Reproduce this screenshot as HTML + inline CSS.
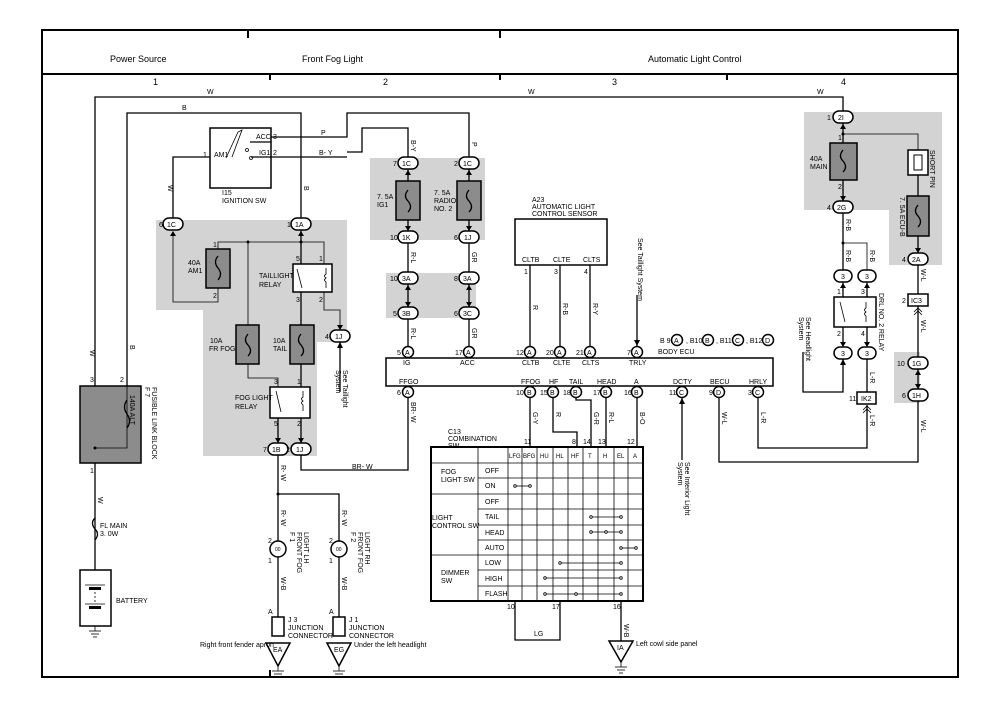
<!DOCTYPE html>
<html><head><meta charset="utf-8"><style>
html,body{margin:0;padding:0;background:#fff}
svg{display:block}
text{font-family:"Liberation Sans",Arial,sans-serif;font-size:7px;fill:#000}
.h{font-size:9px}
.w{fill:none;stroke:#000;stroke-width:1.3}
.t{fill:none;stroke:#000;stroke-width:0.8}
.g{fill:#d3d3d3;stroke:none}
.f{fill:#8c8c8c;stroke:#000;stroke-width:1.5}
.c{fill:#fff;stroke:#000;stroke-width:1.5}
.b{fill:#fff;stroke:#000;stroke-width:1.5}
</style></head><body>
<svg width="1000" height="706" viewBox="0 0 1000 706" xmlns="http://www.w3.org/2000/svg">
<!-- frame -->
<rect x="42" y="30" width="916" height="647" fill="none" stroke="#000" stroke-width="2"/>
<line x1="42" y1="74" x2="958" y2="74" stroke="#000" stroke-width="2"/>
<line x1="248" y1="30" x2="248" y2="38" stroke="#000" stroke-width="2"/>
<line x1="500" y1="30" x2="500" y2="38" stroke="#000" stroke-width="2"/>
<line x1="270" y1="74" x2="270" y2="80" stroke="#000" stroke-width="2"/>
<line x1="500" y1="74" x2="500" y2="80" stroke="#000" stroke-width="2"/>
<line x1="727" y1="74" x2="727" y2="80" stroke="#000" stroke-width="2"/>
<line x1="270" y1="670" x2="270" y2="677" stroke="#000" stroke-width="2"/>
<text x="110" y="62" class="h">Power Source</text>
<text x="302" y="62" class="h">Front Fog Light</text>
<text x="648" y="62" class="h">Automatic Light Control</text>
<text x="153" y="85" class="h">1</text><text x="383" y="85" class="h">2</text>
<text x="612" y="85" class="h">3</text><text x="841" y="85" class="h">4</text>

<!-- gray regions -->
<polygon class="g" points="156,220 347,220 347,342 317,342 317,456 203,456 203,310 156,310"/>
<rect class="g" x="370" y="158" width="115" height="82"/>
<rect class="g" x="386" y="273" width="90" height="45"/>
<polygon class="g" points="804,112 942,112 942,265 889,265 889,210 804,210"/>
<rect class="g" x="894" y="352" width="26" height="51"/>

<!-- main wires -->
<polyline class="w" points="95,386 95,97 843,97 843,111"/>
<polyline class="w" points="127,386 127,113 301,113 301,218"/>
<text x="207" y="94">W</text><text x="528" y="94">W</text><text x="817" y="94">W</text>
<text x="182" y="110">B</text>
<text x="90" y="350" transform="rotate(90 90 350)">W</text>
<text x="130" y="345" transform="rotate(90 130 345)">B</text>
<text x="304" y="186" transform="rotate(90 304 186)">B</text>
<text x="168" y="185" transform="rotate(90 168 185)">W</text>

<!-- ignition sw -->
<rect x="210" y="128" width="61" height="60" fill="#fff" stroke="#000" stroke-width="1.5"/>
<polyline class="w" points="210,157 173,157 173,218"/>
<polyline class="w" points="250,142 271,142" />
<polyline class="w" points="251,157 347,157"/>
<polyline class="w" points="271,137 347,137 347,113 469,113 469,157"/>
<polyline class="w" points="347,152 362,152 362,128 408,128 408,157"/>
<rect x="271" y="150" width="80" height="10" fill="none"/>
<polyline class="t" points="226,158 238,132 242,130 232,157"/>
<circle cx="247" cy="150" r="1.5" class="t"/><circle cx="251" cy="158" r="1.5" class="t"/>
<text x="203" y="157">1</text><text x="214" y="157">AM1</text>
<text x="256" y="139">ACC</text><text x="273" y="139">3</text>
<text x="259" y="155">IG1</text><text x="273" y="155">2</text>
<text x="321" y="135">P</text><text x="319" y="155">B- Y</text>
<text x="222" y="195">I15</text><text x="222" y="203">IGNITION SW</text>
<text x="411" y="140" transform="rotate(90 411 140)">B-Y</text>
<text x="472" y="142" transform="rotate(90 472 142)">P</text>

<!-- connectors helper style -->
<g>
<rect class="c" x="163" y="218" width="20" height="12" rx="6"/><text x="167" y="227">1C</text><text x="159" y="227">6</text>
<rect class="c" x="291" y="218" width="20" height="12" rx="6"/><text x="295" y="227">1A</text><text x="287" y="227">1</text>
<rect class="c" x="330" y="330" width="20" height="12" rx="6"/><text x="335" y="339">1J</text><text x="325" y="339">4</text>
<rect class="c" x="268" y="443" width="20" height="12" rx="6"/><text x="272" y="452">1B</text><text x="263" y="452">7</text>
<rect class="c" x="291" y="443" width="20" height="12" rx="6"/><text x="296" y="452">1J</text><text x="286" y="452">2</text>
</g>
<!-- AM1 block wiring -->
<polyline class="t" points="173,236 173,302 218,302 218,288"/>
<polyline class="t" points="218,249 218,242 324,242 324,264"/>
<circle cx="248" cy="242" r="1.5"/><circle cx="301" cy="242" r="1.5"/>
<rect class="f" x="206" y="249" width="24" height="39"/>
<path d="M218,256 q-5,6 0,12 q5,6 0,12" class="w"/>
<text x="188" y="265">40A</text><text x="188" y="273">AM1</text>
<text x="213" y="247">1</text><text x="213" y="298">2</text>
<!-- tail relay -->
<line x1="301" y1="230" x2="301" y2="264" class="w"/>
<rect x="293" y="264" width="39" height="28" fill="#fff" stroke="#000" stroke-width="1.5"/>
<line x1="297" y1="269" x2="302" y2="288" class="t"/>
<path d="M326,268 v6 q-3,2 0,4 q-3,2 0,4 v6" class="t"/>
<text x="296" y="261">5</text><text x="319" y="261">1</text><text x="296" y="302">3</text><text x="319" y="302">2</text>
<text x="259" y="278">TAILLIGHT</text><text x="259" y="287">RELAY</text>
<polyline class="t" points="324,292 324,310 340,310 340,330"/>
<line x1="340" y1="342" x2="340" y2="392" class="w"/>
<text x="343" y="370" transform="rotate(90 343 370)">See Taillight</text>
<text x="336" y="370" transform="rotate(90 336 370)">System</text>
<!-- fuses FR FOG / TAIL -->
<line x1="248" y1="242" x2="248" y2="325" class="t"/>
<line x1="301" y1="292" x2="301" y2="325" class="w"/>
<rect class="f" x="236" y="325" width="23" height="39"/>
<rect class="f" x="290" y="325" width="24" height="39"/>
<path d="M248,334 q-5,6 0,11 q5,6 0,11" class="w"/>
<path d="M301,334 q-5,6 0,11 q5,6 0,11" class="w"/>
<text x="210" y="343">10A</text><text x="209" y="351">FR FOG</text>
<text x="273" y="343">10A</text><text x="273" y="351">TAIL</text>
<!-- fog light relay -->
<polyline class="t" points="248,364 248,378 278,378 278,387"/>
<line x1="301" y1="364" x2="301" y2="387" class="w"/>
<rect x="270" y="387" width="40" height="31" fill="#fff" stroke="#000" stroke-width="1.5"/>
<line x1="276" y1="391" x2="281" y2="412" class="t"/>
<path d="M303,391 v6 q-3,2 0,4 q-3,2 0,4 v6" class="t"/>
<text x="274" y="384">3</text><text x="297" y="384">1</text><text x="274" y="426">5</text><text x="297" y="426">2</text>
<text x="235" y="400">FOG LIGHT</text><text x="235" y="409">RELAY</text>
<line x1="278" y1="418" x2="278" y2="443" class="w"/>
<line x1="301" y1="418" x2="301" y2="443" class="w"/>
<!-- fog lights -->
<polyline class="w" points="278,455 278,620"/>
<polyline class="w" points="278,494 339,494 339,620"/>
<circle cx="278" cy="494" r="1.5"/>
<polyline class="w" points="301,455 301,470 408,470 408,398"/>
<text x="352" y="469">BR- W</text>
<text x="411" y="402" transform="rotate(90 411 402)">BR- W</text>
<text x="281" y="465" transform="rotate(90 281 465)">R- W</text>
<text x="281" y="510" transform="rotate(90 281 510)">R- W</text>
<text x="342" y="510" transform="rotate(90 342 510)">R- W</text>
<circle cx="278" cy="549" r="8" fill="#fff" stroke="#000" stroke-width="1.5"/>
<circle cx="339" cy="549" r="8" fill="#fff" stroke="#000" stroke-width="1.5"/>
<text x="275" y="551" style="font-size:5px">00</text><text x="336" y="551" style="font-size:5px">00</text>
<text x="268" y="543">2</text><text x="268" y="563">1</text><text x="329" y="543">2</text><text x="329" y="563">1</text>
<text x="290" y="532" transform="rotate(90 290 532)">F 1</text>
<text x="297" y="532" transform="rotate(90 297 532)">FRONT FOG</text>
<text x="304" y="532" transform="rotate(90 304 532)">LIGHT LH</text>
<text x="351" y="532" transform="rotate(90 351 532)">F 2</text>
<text x="358" y="532" transform="rotate(90 358 532)">FRONT FOG</text>
<text x="365" y="532" transform="rotate(90 365 532)">LIGHT RH</text>
<text x="281" y="577" transform="rotate(90 281 577)">W-B</text>
<text x="342" y="577" transform="rotate(90 342 577)">W-B</text>
<rect x="272" y="617" width="12" height="19" fill="#fff" stroke="#000" stroke-width="1.5"/>
<rect x="333" y="617" width="12" height="19" fill="#fff" stroke="#000" stroke-width="1.5"/>
<text x="268" y="614">A</text><text x="329" y="614">A</text>
<text x="288" y="622">J 3</text><text x="288" y="630">JUNCTION</text><text x="288" y="638">CONNECTOR</text>
<text x="349" y="622">J 1</text><text x="349" y="630">JUNCTION</text><text x="349" y="638">CONNECTOR</text>
<polygon points="266,643 290,643 278,666" fill="#fff" stroke="#000" stroke-width="1.5"/>
<polygon points="327,643 351,643 339,666" fill="#fff" stroke="#000" stroke-width="1.5"/>
<text x="273" y="652">EA</text><text x="334" y="652">EG</text>
<text x="200" y="647">Right front fender apron</text>
<text x="354" y="647">Under the left headlight</text>
<g class="t"><line x1="278" y1="666" x2="278" y2="671"/><line x1="272" y1="671" x2="284" y2="671"/><line x1="274" y1="674" x2="282" y2="674"/><line x1="276" y1="677" x2="280" y2="677"/>
<line x1="339" y1="666" x2="339" y2="671"/><line x1="333" y1="671" x2="345" y2="671"/><line x1="335" y1="674" x2="343" y2="674"/><line x1="337" y1="677" x2="341" y2="677"/></g>

<!-- fusible link block -->
<rect x="80" y="386" width="61" height="77" fill="#8c8c8c" stroke="#000" stroke-width="1.5"/>
<polyline class="t" points="127,386 127,448 95,448"/>
<circle cx="95" cy="448" r="1.5"/>
<path d="M127,400 q-5,7 0,14 q5,7 0,14" class="w"/>
<text x="90" y="382">3</text><text x="120" y="382">2</text><text x="90" y="473">1</text>
<text x="130" y="395" transform="rotate(90 130 395)">140A ALT</text>
<text x="145" y="387" transform="rotate(90 145 387)">F 7</text>
<text x="152" y="387" transform="rotate(90 152 387)">FUSIBLE LINK BLOCK</text>
<line x1="95" y1="463" x2="95" y2="570" class="w"/>
<text x="98" y="497" transform="rotate(90 98 497)">W</text>
<path d="M95,518 q-5,5 0,11 q5,5 0,11" class="w" stroke-width="2"/>
<text x="100" y="528">FL MAIN</text><text x="100" y="536">3. 0W</text>
<rect x="80" y="570" width="31" height="56" fill="#fff" stroke="#000" stroke-width="1.5"/>
<line x1="85" y1="585" x2="105" y2="585" class="t"/><rect x="89" y="587" width="12" height="3"/>
<line x1="95" y1="592" x2="95" y2="602" class="t" stroke-dasharray="2,2"/>
<line x1="85" y1="604" x2="105" y2="604" class="t"/><rect x="89" y="606" width="12" height="3"/>
<text x="116" y="603">BATTERY</text>
<g class="t"><line x1="95" y1="626" x2="95" y2="631"/><line x1="89" y1="631" x2="101" y2="631"/><line x1="91" y1="634" x2="99" y2="634"/><line x1="93" y1="637" x2="97" y2="637"/></g>

<!-- IG / ACC fuses -->
<rect class="c" x="398" y="157" width="20" height="12" rx="6"/><text x="402" y="166">1C</text><text x="393" y="166">7</text>
<rect class="c" x="459" y="157" width="20" height="12" rx="6"/><text x="463" y="166">1C</text><text x="454" y="166">2</text>
<line x1="408" y1="169" x2="408" y2="231" class="w"/><line x1="469" y1="169" x2="469" y2="231" class="w"/>
<rect class="f" x="396" y="181" width="24" height="39"/><rect class="f" x="457" y="181" width="24" height="39"/>
<path d="M408,190 q-5,6 0,11 q5,6 0,11" class="w"/><path d="M469,190 q-5,6 0,11 q5,6 0,11" class="w"/>
<text x="377" y="199">7. 5A</text><text x="377" y="207">IG1</text>
<text x="434" y="195">7. 5A</text><text x="434" y="203">RADIO</text><text x="434" y="211">NO. 2</text>
<rect class="c" x="398" y="231" width="20" height="12" rx="6"/><text x="402" y="240">1K</text><text x="390" y="240">10</text>
<rect class="c" x="459" y="231" width="20" height="12" rx="6"/><text x="464" y="240">1J</text><text x="454" y="240">6</text>
<line x1="408" y1="243" x2="408" y2="272" class="w"/><line x1="469" y1="243" x2="469" y2="272" class="w"/>
<text x="411" y="252" transform="rotate(90 411 252)">R-L</text><text x="472" y="252" transform="rotate(90 472 252)">GR</text>
<rect class="c" x="398" y="272" width="20" height="12" rx="6"/><text x="402" y="281">3A</text><text x="390" y="281">10</text>
<rect class="c" x="459" y="272" width="20" height="12" rx="6"/><text x="463" y="281">3A</text><text x="454" y="281">8</text>
<line x1="408" y1="284" x2="408" y2="307" class="w"/><line x1="469" y1="284" x2="469" y2="307" class="w"/>
<rect class="c" x="398" y="307" width="20" height="12" rx="6"/><text x="402" y="316">3B</text><text x="393" y="316">5</text>
<rect class="c" x="459" y="307" width="20" height="12" rx="6"/><text x="463" y="316">3C</text><text x="454" y="316">6</text>
<line x1="408" y1="319" x2="408" y2="346" class="w"/><line x1="469" y1="319" x2="469" y2="346" class="w"/>
<text x="411" y="328" transform="rotate(90 411 328)">R-L</text><text x="472" y="328" transform="rotate(90 472 328)">GR</text>

<!-- sensor -->
<text x="532" y="202">A23</text><text x="532" y="209">AUTOMATIC LIGHT</text><text x="532" y="216">CONTROL SENSOR</text>
<rect x="515" y="219" width="92" height="46" fill="#fff" stroke="#000" stroke-width="1.5"/>
<text x="522" y="262">CLTB</text><text x="553" y="262">CLTE</text><text x="583" y="262">CLTS</text>
<line x1="530" y1="265" x2="530" y2="346" class="w"/><line x1="560" y1="265" x2="560" y2="346" class="w"/><line x1="590" y1="265" x2="590" y2="346" class="w"/>
<text x="524" y="274">1</text><text x="554" y="274">3</text><text x="584" y="274">4</text>
<text x="533" y="305" transform="rotate(90 533 305)">R</text>
<text x="563" y="303" transform="rotate(90 563 303)">R-B</text>
<text x="593" y="303" transform="rotate(90 593 303)">R-Y</text>
<line x1="637" y1="295" x2="637" y2="346" class="w"/>
<polygon points="634,340 640,340 637,346"/>
<text x="638" y="238" transform="rotate(90 638 238)">See Taillight System</text>

<!-- ECU -->
<rect x="386" y="358" width="387" height="28" fill="#fff" stroke="#000" stroke-width="1.5"/>
<g>
<circle class="c" cx="408" cy="352" r="5.5"/><text x="405" y="355">A</text><text x="397" y="355">5</text><text x="403" y="365">IG</text>
<circle class="c" cx="469" cy="352" r="5.5"/><text x="466" y="355">A</text><text x="455" y="355">17</text><text x="460" y="365">ACC</text>
<circle class="c" cx="530" cy="352" r="5.5"/><text x="527" y="355">A</text><text x="516" y="355">12</text><text x="522" y="365">CLTB</text>
<circle class="c" cx="560" cy="352" r="5.5"/><text x="557" y="355">A</text><text x="546" y="355">20</text><text x="553" y="365">CLTE</text>
<circle class="c" cx="590" cy="352" r="5.5"/><text x="587" y="355">A</text><text x="576" y="355">21</text><text x="582" y="365">CLTS</text>
<circle class="c" cx="637" cy="352" r="5.5"/><text x="634" y="355">A</text><text x="627" y="355">7</text><text x="629" y="365">TRLY</text>
<text x="658" y="354">BODY ECU</text>
<text x="660" y="343">B 9</text><circle class="c" cx="677" cy="340" r="5.5"/><text x="674" y="343">A</text>
<text x="686" y="343">, B10</text><circle class="c" cx="708" cy="340" r="5.5"/><text x="705" y="343">B</text>
<text x="716" y="343">, B11</text><circle class="c" cx="738" cy="340" r="5.5"/><text x="735" y="343">C</text>
<text x="746" y="343">, B12</text><circle class="c" cx="768" cy="340" r="5.5"/><text x="765" y="343">D</text>
<text x="399" y="384">FFGO</text><circle class="c" cx="408" cy="392" r="5.5"/><text x="405" y="395">A</text><text x="397" y="395">6</text>
<text x="521" y="384">FFOG</text><circle class="c" cx="530" cy="392" r="5.5"/><text x="527" y="395">B</text><text x="516" y="395">10</text>
<text x="549" y="384">HF</text><circle class="c" cx="553" cy="392" r="5.5"/><text x="550" y="395">B</text><text x="540" y="395">15</text>
<text x="569" y="384">TAIL</text><circle class="c" cx="576" cy="392" r="5.5"/><text x="573" y="395">B</text><text x="563" y="395">18</text>
<text x="597" y="384">HEAD</text><circle class="c" cx="606" cy="392" r="5.5"/><text x="603" y="395">B</text><text x="593" y="395">17</text>
<text x="634" y="384">A</text><circle class="c" cx="637" cy="392" r="5.5"/><text x="634" y="395">B</text><text x="624" y="395">16</text>
<text x="673" y="384">DCTY</text><circle class="c" cx="682" cy="392" r="5.5"/><text x="679" y="395">C</text><text x="669" y="395">11</text>
<text x="710" y="384">BECU</text><circle class="c" cx="719" cy="392" r="5.5"/><text x="716" y="395">D</text><text x="709" y="395">9</text>
<text x="749" y="384">HRLY</text><circle class="c" cx="758" cy="392" r="5.5"/><text x="755" y="395">C</text><text x="748" y="395">3</text>
</g>
<!-- ECU bottom wires -->
<line x1="530" y1="398" x2="530" y2="447" class="w"/>
<polyline class="w" points="553,398 553,432 577,432 577,447"/>
<polyline class="w" points="576,398 576,400 591,400 591,447"/>
<line x1="606" y1="398" x2="606" y2="447" class="w"/>
<line x1="637" y1="398" x2="637" y2="447" class="w"/>
<text x="533" y="412" transform="rotate(90 533 412)">G-Y</text>
<text x="556" y="412" transform="rotate(90 556 412)">R</text>
<text x="594" y="412" transform="rotate(90 594 412)">G-R</text>
<text x="609" y="412" transform="rotate(90 609 412)">R-L</text>
<text x="640" y="412" transform="rotate(90 640 412)">B-O</text>
<text x="524" y="444">11</text><text x="572" y="444">8</text><text x="583" y="444">14</text><text x="598" y="444">13</text><text x="627" y="444">12</text>
<line x1="682" y1="398" x2="682" y2="460" class="w"/>
<polygon points="679,404 685,404 682,398"/>
<text x="685" y="462" transform="rotate(90 685 462)">See Interior Light</text>
<text x="678" y="462" transform="rotate(90 678 462)">System</text>
<polyline class="w" points="719,398 719,462 918,462 918,401"/>
<polyline class="w" points="758,398 758,448 867,448 867,405"/>
<text x="722" y="412" transform="rotate(90 722 412)">W-L</text>
<text x="761" y="412" transform="rotate(90 761 412)">L-R</text>

<!-- combination switch table -->
<text x="448" y="434">C13</text><text x="448" y="441">COMBINATION</text><text x="448" y="448">SW</text>
<rect x="431" y="447" width="212" height="154" fill="#fff" stroke="#000" stroke-width="2"/>
<g class="t">
<line x1="478" y1="447" x2="478" y2="601"/>
<line x1="508" y1="447" x2="508" y2="601"/><line x1="522" y1="447" x2="522" y2="601"/><line x1="537" y1="447" x2="537" y2="601"/>
<line x1="553" y1="447" x2="553" y2="601"/><line x1="568" y1="447" x2="568" y2="601"/><line x1="583" y1="447" x2="583" y2="601"/>
<line x1="598" y1="447" x2="598" y2="601"/><line x1="614" y1="447" x2="614" y2="601"/><line x1="628" y1="447" x2="628" y2="601"/>
<line x1="431" y1="463" x2="643" y2="463"/>
<line x1="478" y1="478" x2="643" y2="478"/><line x1="431" y1="494" x2="643" y2="494"/>
<line x1="478" y1="509" x2="643" y2="509"/><line x1="478" y1="525" x2="643" y2="525"/><line x1="478" y1="540" x2="643" y2="540"/>
<line x1="431" y1="555" x2="643" y2="555"/><line x1="478" y1="570" x2="643" y2="570"/><line x1="478" y1="586" x2="643" y2="586"/>
</g>
<g style="font-size:6px">
<text x="509" y="458" style="font-size:6px">LFG</text><text x="523" y="458" style="font-size:6px">BFG</text><text x="540" y="458" style="font-size:6px">HU</text>
<text x="556" y="458" style="font-size:6px">HL</text><text x="571" y="458" style="font-size:6px">HF</text><text x="588" y="458" style="font-size:6px">T</text>
<text x="603" y="458" style="font-size:6px">H</text><text x="617" y="458" style="font-size:6px">EL</text><text x="633" y="458" style="font-size:6px">A</text>
</g>
<text x="485" y="473">OFF</text><text x="485" y="488">ON</text><text x="485" y="504">OFF</text><text x="485" y="519">TAIL</text>
<text x="485" y="535">HEAD</text><text x="485" y="550">AUTO</text><text x="485" y="565">LOW</text><text x="485" y="581">HIGH</text><text x="485" y="596">FLASH</text>
<text x="441" y="474">FOG</text><text x="441" y="482">LIGHT SW</text>
<text x="432" y="520">LIGHT</text><text x="432" y="528">CONTROL SW</text>
<text x="441" y="575">DIMMER</text><text x="441" y="583">SW</text>
<g class="t">
<line x1="515" y1="486" x2="530" y2="486"/><circle cx="515" cy="486" r="1.3" fill="#fff"/><circle cx="530" cy="486" r="1.3" fill="#fff"/>
<line x1="591" y1="517" x2="621" y2="517"/><circle cx="591" cy="517" r="1.3" fill="#fff"/><circle cx="621" cy="517" r="1.3" fill="#fff"/>
<line x1="591" y1="532" x2="621" y2="532"/><circle cx="591" cy="532" r="1.3" fill="#fff"/><circle cx="606" cy="532" r="1.3" fill="#fff"/><circle cx="621" cy="532" r="1.3" fill="#fff"/>
<line x1="621" y1="548" x2="636" y2="548"/><circle cx="621" cy="548" r="1.3" fill="#fff"/><circle cx="636" cy="548" r="1.3" fill="#fff"/>
<line x1="560" y1="563" x2="621" y2="563"/><circle cx="560" cy="563" r="1.3" fill="#fff"/><circle cx="621" cy="563" r="1.3" fill="#fff"/>
<line x1="545" y1="578" x2="621" y2="578"/><circle cx="545" cy="578" r="1.3" fill="#fff"/><circle cx="621" cy="578" r="1.3" fill="#fff"/>
<line x1="545" y1="594" x2="621" y2="594"/><circle cx="545" cy="594" r="1.3" fill="#fff"/><circle cx="576" cy="594" r="1.3" fill="#fff"/><circle cx="621" cy="594" r="1.3" fill="#fff"/>
</g>
<polyline class="w" points="515,601 515,640 560,640 560,601"/>
<text x="507" y="609">10</text><text x="552" y="609">17</text><text x="613" y="609">16</text>
<text x="534" y="636">LG</text>
<line x1="621" y1="601" x2="621" y2="641" class="w"/>
<text x="624" y="624" transform="rotate(90 624 624)">W-B</text>
<polygon points="609,641 633,641 621,662" fill="#fff" stroke="#000" stroke-width="1.5"/>
<text x="617" y="650">IA</text>
<text x="636" y="646">Left cowl side panel</text>
<g class="t"><line x1="621" y1="662" x2="621" y2="667"/><line x1="615" y1="667" x2="627" y2="667"/><line x1="617" y1="670" x2="625" y2="670"/><line x1="619" y1="673" x2="623" y2="673"/></g>

<!-- right section -->
<rect class="c" x="833" y="111" width="20" height="12" rx="6"/><text x="838" y="120">2I</text><text x="827" y="120">1</text>
<line x1="843" y1="123" x2="843" y2="201" class="w"/>
<polyline class="t" points="843,134 918,134 918,150"/><circle cx="843" cy="134" r="1.5"/>
<text x="838" y="140">1</text><text x="838" y="189">2</text>
<rect class="f" x="830" y="143" width="27" height="37"/>
<path d="M843,150 q-5,6 0,11 q5,6 0,11" class="w"/>
<text x="810" y="161">40A</text><text x="810" y="169">MAIN</text>
<rect x="908" y="150" width="20" height="25" fill="#fff" stroke="#000" stroke-width="1.5"/>
<rect x="914" y="155" width="8" height="15" fill="#fff" stroke="#000" stroke-width="1"/>
<text x="930" y="150" transform="rotate(90 930 150)">SHORT PIN</text>
<line x1="918" y1="175" x2="918" y2="253" class="w"/>
<rect class="f" x="907" y="196" width="22" height="40"/>
<path d="M918,205 q-5,6 0,11 q5,6 0,11" class="w"/>
<text x="900" y="197" transform="rotate(90 900 197)">7. 5A ECU-B</text>
<rect class="c" x="833" y="201" width="20" height="12" rx="6"/><text x="837" y="210">2G</text><text x="827" y="210">4</text>
<rect class="c" x="908" y="253" width="20" height="12" rx="6"/><text x="912" y="262">2A</text><text x="902" y="262">4</text>
<line x1="843" y1="213" x2="843" y2="270" class="w"/>
<polyline class="t" points="843,243 867,243 867,270"/><circle cx="843" cy="243" r="1.5"/>
<text x="846" y="219" transform="rotate(90 846 219)">R-B</text>
<text x="846" y="250" transform="rotate(90 846 250)">R-B</text>
<text x="870" y="250" transform="rotate(90 870 250)">R-B</text>
<rect class="c" x="834" y="270" width="18" height="12" rx="6"/><text x="841" y="279">3</text>
<rect class="c" x="858" y="270" width="18" height="12" rx="6"/><text x="865" y="279">3</text>
<line x1="843" y1="282" x2="843" y2="297" class="w"/><line x1="867" y1="282" x2="867" y2="297" class="w"/>
<rect x="834" y="297" width="42" height="30" fill="#fff" stroke="#000" stroke-width="1.5"/>
<line x1="840" y1="302" x2="845" y2="322" class="t"/>
<path d="M866,302 v6 q-3,2 0,4 q-3,2 0,4 v6" class="t"/>
<text x="837" y="294">1</text><text x="861" y="294">3</text><text x="837" y="336">2</text><text x="861" y="336">4</text>
<text x="879" y="293" transform="rotate(90 879 293)">DRL NO. 2 RELAY</text>
<line x1="843" y1="327" x2="843" y2="347" class="w"/><line x1="867" y1="327" x2="867" y2="347" class="w"/>
<rect class="c" x="834" y="347" width="18" height="12" rx="6"/><text x="841" y="356">3</text>
<rect class="c" x="858" y="347" width="18" height="12" rx="6"/><text x="865" y="356">3</text>
<polyline class="w" points="803,352 803,392 843,392 843,359"/>
<polygon points="840,365 846,365 843,359"/>
<text x="806" y="317" transform="rotate(90 806 317)">See Headlight</text>
<text x="799" y="317" transform="rotate(90 799 317)">System</text>
<line x1="867" y1="359" x2="867" y2="392" class="w"/>
<text x="870" y="372" transform="rotate(90 870 372)">L-R</text>
<rect x="857" y="392" width="19" height="12" fill="#fff" stroke="#000" stroke-width="1.5"/><text x="861" y="401">IK2</text><text x="849" y="401">11</text>
<text x="870" y="415" transform="rotate(90 870 415)">L-R</text>
<line x1="918" y1="265" x2="918" y2="294" class="w"/>
<text x="921" y="269" transform="rotate(90 921 269)">W-L</text>
<rect x="908" y="294" width="20" height="12" fill="#fff" stroke="#000" stroke-width="1.5"/><text x="911" y="303">IC3</text><text x="902" y="303">2</text>
<line x1="918" y1="306" x2="918" y2="357" class="w"/>
<text x="921" y="320" transform="rotate(90 921 320)">W-L</text>
<rect class="c" x="908" y="357" width="20" height="12" rx="6"/><text x="912" y="366">1G</text><text x="897" y="366">10</text>
<line x1="918" y1="369" x2="918" y2="389" class="w"/>
<rect class="c" x="908" y="389" width="20" height="12" rx="6"/><text x="912" y="398">1H</text><text x="902" y="398">6</text>
<text x="921" y="420" transform="rotate(90 921 420)">W-L</text>

<!-- arrowheads at connectors -->
<g fill="#000">
<polygon points="170,236 176,236 173,231"/><polygon points="298,236 304,236 301,231"/>
<polygon points="337,325 343,325 340,330"/><polygon points="337,348 343,348 340,342"/>
<polygon points="275,438 281,438 278,443"/><polygon points="298,438 304,438 301,443"/>
<polygon points="405,175 411,175 408,170"/><polygon points="466,175 472,175 469,170"/>
<polygon points="405,226 411,226 408,231"/><polygon points="466,226 472,226 469,231"/>
<polygon points="405,290 411,290 408,285"/><polygon points="466,290 472,290 469,285"/>
<polygon points="405,302 411,302 408,307"/><polygon points="466,302 472,302 469,307"/>
<polygon points="840,129 846,129 843,124"/><polygon points="840,196 846,196 843,201"/>
<polygon points="915,248 921,248 918,253"/>
<polygon points="840,288 846,288 843,283"/><polygon points="864,288 870,288 867,283"/>
<polygon points="840,342 846,342 843,347"/><polygon points="864,342 870,342 867,347"/>
<polygon points="915,375 921,375 918,370"/><polygon points="915,384 921,384 918,389"/>
</g>
<g class="t" stroke-width="1.2">
<polyline points="914,312 918,308 922,312"/><polyline points="914,315 918,311 922,315"/>
<polyline points="863,410 867,406 871,410"/><polyline points="863,413 867,409 871,413"/>
</g>
</svg>
</body></html>
